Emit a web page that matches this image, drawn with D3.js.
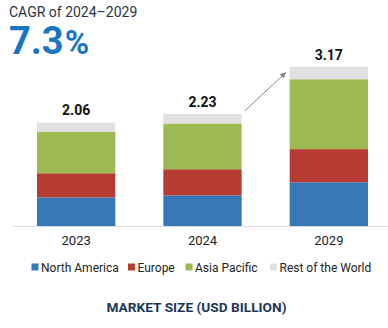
<!DOCTYPE html>
<html><head><meta charset="utf-8">
<script src="https://cdn.jsdelivr.net/npm/d3@7"></script>
<style>body{margin:0;background:#fff;}svg{display:block;font-family:Roboto,sans-serif;}</style>
</head><body><svg id="c" width="388" height="328"></svg>
<script>
const years = ["2023", "2024", "2029"];
const seriesNames = ["North America", "Europe", "Asia Pacific", "Rest of the World"];
const northAmerica = [0.57, 0.61, 0.87];
const europe = [0.48, 0.52, 0.66];
const asiaPacific = [0.82, 0.91, 1.39];
const restOfWorld = [0.19, 0.19, 0.25];
const totals = ["2.06", "2.23", "3.17"];
const colors = ["#3878b6", "#b63c33", "#9dba52", "#e1e1e1"];

const svg = d3.select("#c");
const rows = years.map((y, i) => ({year: y, "North America": northAmerica[i], "Europe": europe[i], "Asia Pacific": asiaPacific[i], "Rest of the World": restOfWorld[i]}));
const stack = d3.stack().keys(seriesNames)(rows);

const x = d3.scaleBand().domain(years).range([13, 392]).paddingInner(0.38).paddingOuter(0.19);
const y = d3.scaleLinear().domain([0, 3.17]).range([226, 66.7]);

// axis baseline
svg.append("line").attr("x1", 13).attr("x2", 388).attr("y1", 226.5).attr("y2", 226.5).attr("stroke", "#dcdcdc").attr("stroke-width", 1);

svg.append("g").selectAll("g").data(stack).join("g").attr("fill", (d, i) => colors[i])
  .selectAll("rect").data(d => d).join("rect")
  .attr("x", d => x(d.data.year)).attr("width", x.bandwidth())
  .attr("y", d => y(d[1])).attr("height", d => y(d[0]) - y(d[1]));

// totals
svg.append("g").selectAll("text").data(years).join("text")
  .attr("x", d => x(d) + x.bandwidth() / 2)
  .attr("y", (d, i) => y(d3.sum(stack, s => s[i][1] - s[i][0])) - 7)
  .attr("text-anchor", "middle").attr("font-weight", 700).attr("font-size", 14).attr("fill", "#111")
  .text((d, i) => totals[i]);

// x axis labels
const xAxis = d3.axisBottom(x).tickSize(0).tickPadding(0);
const gx = svg.append("g").attr("transform", "translate(0,226)").call(xAxis);
gx.select(".domain").remove();
gx.selectAll("text").attr("font-size", 13).attr("font-family", "Roboto,sans-serif").attr("fill", "#222").attr("dy", null).attr("y", 19);

// arrow
const defs = svg.append("defs");
defs.append("marker").attr("id", "ah").attr("viewBox", "0 0 10 10").attr("refX", 9).attr("refY", 5)
  .attr("markerWidth", 6).attr("markerHeight", 6).attr("orient", "auto")
  .append("path").attr("d", "M0,0 L10,5 L0,10 z").attr("fill", "#888");
const i24 = 1, i29 = 2;
svg.append("line")
  .attr("x1", x(years[i24]) + x.bandwidth() + 3).attr("y1", y(2.23) - 3)
  .attr("x2", x(years[i29]) - 4).attr("y2", y(3.17) + 6)
  .attr("stroke", "#888").attr("stroke-width", 1).attr("marker-end", "url(#ah)");

// title
svg.append("text").attr("x", 9).attr("y", 16.5).attr("font-size", 14).attr("fill", "#2a3440").text("CAGR of 2024\u20132029");
const big = svg.append("text").attr("x", 9).attr("y", 53.5).attr("font-weight", 700).attr("fill", "#1a74c4");
big.append("tspan").attr("font-size", 38).text("7.3");
big.append("tspan").attr("font-size", 33).attr("dx", 1).text("%");

// legend
const legendX = [31.5, 128, 185.5, 270];
const lg = svg.append("g").selectAll("g").data(seriesNames).join("g")
  .attr("transform", (d, i) => `translate(${legendX[i]},267)`);
lg.append("rect").attr("x", 0).attr("y", -3.5).attr("width", 7).attr("height", 7).attr("fill", (d, i) => colors[i]);
lg.append("text").attr("x", 9.5).attr("y", 4.5).attr("font-size", 12).attr("fill", "#222").text(d => d);

// footer
svg.append("text").attr("x", 196.5).attr("y", 312).attr("text-anchor", "middle").attr("font-weight", 700)
  .attr("font-size", 13.7).attr("fill", "#1e3656").text("MARKET SIZE (USD BILLION)");
</script></body></html>
